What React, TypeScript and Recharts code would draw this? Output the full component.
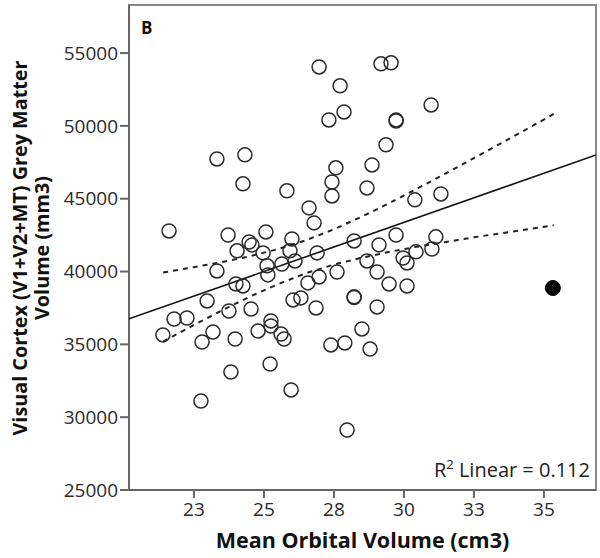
import React from "react";
import {
  ScatterChart,
  Scatter,
  XAxis,
  YAxis,
  ReferenceArea
} from "recharts";

// observed subjects (mean orbital volume cm3, visual cortex grey matter mm3)
const orbitalVolume = [
  23.32, 24.32, 24.25, 25.82, 21.61, 23.72, 25.07, 26.0, 24.47, 24.57,
  24.04, 24.97, 25.93, 26.11, 23.32, 25.11, 25.14, 25.64, 24.0, 24.25,
  22.97, 23.75, 24.54, 21.79, 22.25, 21.39, 23.18, 22.79, 23.97, 24.79,
  25.25, 25.25, 25.61, 25.72, 23.82, 25.22, 25.97, 22.75, 26.04, 26.32,
  26.97, 29.18, 29.54, 27.72, 27.32, 27.86, 29.72, 29.72, 30.97, 29.36,
  27.57, 27.43, 28.86, 28.68, 27.43, 30.39, 31.32, 26.61, 26.79, 28.22,
  29.72, 29.11, 26.9, 31.14, 31.0, 30.43, 29.97, 30.11, 28.68, 29.04,
  27.61, 26.97, 26.57, 29.47, 30.11, 28.22, 28.22, 26.86, 29.04, 28.5,
  27.39, 27.89, 28.79, 27.97
];
const greyMatter = [
  47730, 48010, 46020, 45540, 42790, 42510, 42720, 42240, 42030, 41830,
  41420, 41280, 41420, 40730, 40040, 40390, 39770, 40520, 39150, 39010,
  37980, 37290, 37430, 36740, 36810, 35650, 35850, 35160, 35370, 35920,
  36610, 36260, 35710, 35370, 33100, 33650, 31870, 31110, 38050, 38190,
  54050, 54260, 54330, 52750, 50410, 50960, 50410, 50340, 51440, 48700,
  47120, 46150, 47320, 45740, 45190, 44920, 45330, 44370, 43340, 42100,
  42510, 41830, 41280, 42380, 41550, 41350, 40930, 40590, 40730, 39970,
  39970, 39630, 39220, 39150, 39010, 38260, 38220, 37500, 37570, 36060,
  34960, 35100, 34680, 29120
];

// excluded case, drawn filled
const outlierVolume = [35.32];
const outlierGrey = [38870];

// linear fit (R2 = 0.112) across the plot
const fitVolume = [20.18, 36.86];
const fitGrey = [36750, 48000];

// 95% confidence band of the mean
const bandVolume = [
  21.4, 22.5, 23.5, 24.5, 25.5, 26.5, 27.5, 28.5, 29.5, 30.5, 31.5, 32.5,
  33.5, 34.5, 35.35
];
const bandUpper = [
  39930, 40300, 40650, 41050, 41540, 42150, 42900, 43770, 44720, 45720,
  46740, 47790, 48840, 49900, 50820
];
const bandLower = [
  35190, 36330, 37330, 38280, 39130, 39880, 40480, 40950, 41360, 41710,
  42030, 42350, 42640, 42930, 43180
];

const xTicks = [22.5, 25, 27.5, 30, 32.5, 35];
const yTicks = [25000, 30000, 35000, 40000, 45000, 50000, 55000];
const xDomain = [20.18, 36.86];
const yDomain = [25000, 58300];

const points = orbitalVolume.map((x, i) => ({ x, y: greyMatter[i] }));
const outlier = outlierVolume.map((x, i) => ({ x, y: outlierGrey[i] }));
const fitLine = fitVolume.map((x, i) => ({ x, y: fitGrey[i] }));
const upper = bandVolume.map((x, i) => ({ x, y: bandUpper[i] }));
const lower = bandVolume.map((x, i) => ({ x, y: bandLower[i] }));

const font = "'Open Sans', 'DejaVu Sans', sans-serif";

const OpenDot = (props: any) => (
  <circle cx={props.cx} cy={props.cy} r={7} fill="none" stroke="#2a2a2a" strokeWidth={1.5} />
);
const FilledDot = (props: any) => (
  <circle cx={props.cx} cy={props.cy} r={7.5} fill="#000" stroke="#000" />
);
const NoDot = () => <g />;

export default function App() {
  const tickStyle = { fill: "#2a2a2a", fontSize: 19, fontFamily: font };
  return (
    <div style={{ position: "absolute", left: 0, top: 0, width: 600, height: 558, background: "#fff" }}>
      <ScatterChart
        width={600}
        height={558}
        margin={{ top: 5, right: 4, left: 0, bottom: 38 }}
      >
        <XAxis
          type="number"
          dataKey="x"
          domain={xDomain}
          ticks={xTicks}
          allowDataOverflow
          height={30}
          tickSize={8}
          tickMargin={5}
          tickFormatter={(v) => `${Math.round(v)}`}
          stroke="#666"
          strokeWidth={2}
          tick={tickStyle}
        />
        <YAxis
          type="number"
          dataKey="y"
          domain={yDomain}
          ticks={yTicks}
          allowDataOverflow
          width={129}
          tickSize={9}
          tickMargin={2}
          stroke="#666"
          strokeWidth={2}
          tick={tickStyle}
        />
        <ReferenceArea
          x1={xDomain[0]}
          x2={xDomain[1]}
          y1={yDomain[0]}
          y2={yDomain[1]}
          fill="none"
          stroke="#888"
          strokeWidth={2}
        />
        <Scatter
          data={upper}
          line={{ stroke: "#222", strokeWidth: 2, strokeDasharray: "5 5" }}
          shape={NoDot}
          isAnimationActive={false}
        />
        <Scatter
          data={lower}
          line={{ stroke: "#222", strokeWidth: 2, strokeDasharray: "5 5" }}
          shape={NoDot}
          isAnimationActive={false}
        />
        <Scatter
          data={fitLine}
          line={{ stroke: "#111", strokeWidth: 1.6 }}
          shape={NoDot}
          isAnimationActive={false}
        />
        <Scatter data={points} shape={OpenDot} isAnimationActive={false} />
        <Scatter data={outlier} shape={FilledDot} isAnimationActive={false} />
      </ScatterChart>

      <div style={{ position: "absolute", left: 141, top: 16, fontFamily: font, fontWeight: 700, fontSize: 17, color: "#111" }}>
        B
      </div>
      <div style={{ position: "absolute", right: 10, top: 456, fontFamily: font, fontSize: 20, color: "#222", whiteSpace: "nowrap" }}>
        R<sup style={{ fontSize: 13, verticalAlign: 0, position: "relative", top: -8 }}>2</sup> Linear = 0.112
      </div>
      <div
        style={{
          position: "absolute",
          left: 129,
          width: 467,
          top: 528,
          textAlign: "center",
          fontFamily: font,
          fontWeight: 700,
          fontSize: 21.5,
          lineHeight: "24px",
          color: "#111"
        }}
      >
        Mean Orbital Volume (cm3)
      </div>
      <div
        style={{
          position: "absolute",
          left: 33 - 250,
          top: 248 - 24,
          width: 500,
          height: 48,
          transform: "rotate(-90deg)",
          transformOrigin: "50% 50%",
          textAlign: "center",
          fontFamily: font,
          fontWeight: 700,
          fontSize: 19.8,
          lineHeight: "22px",
          color: "#111"
        }}
      >
        Visual Cortex (V1+V2+MT) Grey Matter
        <br />
        Volume (mm3)
      </div>
    </div>
  );
}
